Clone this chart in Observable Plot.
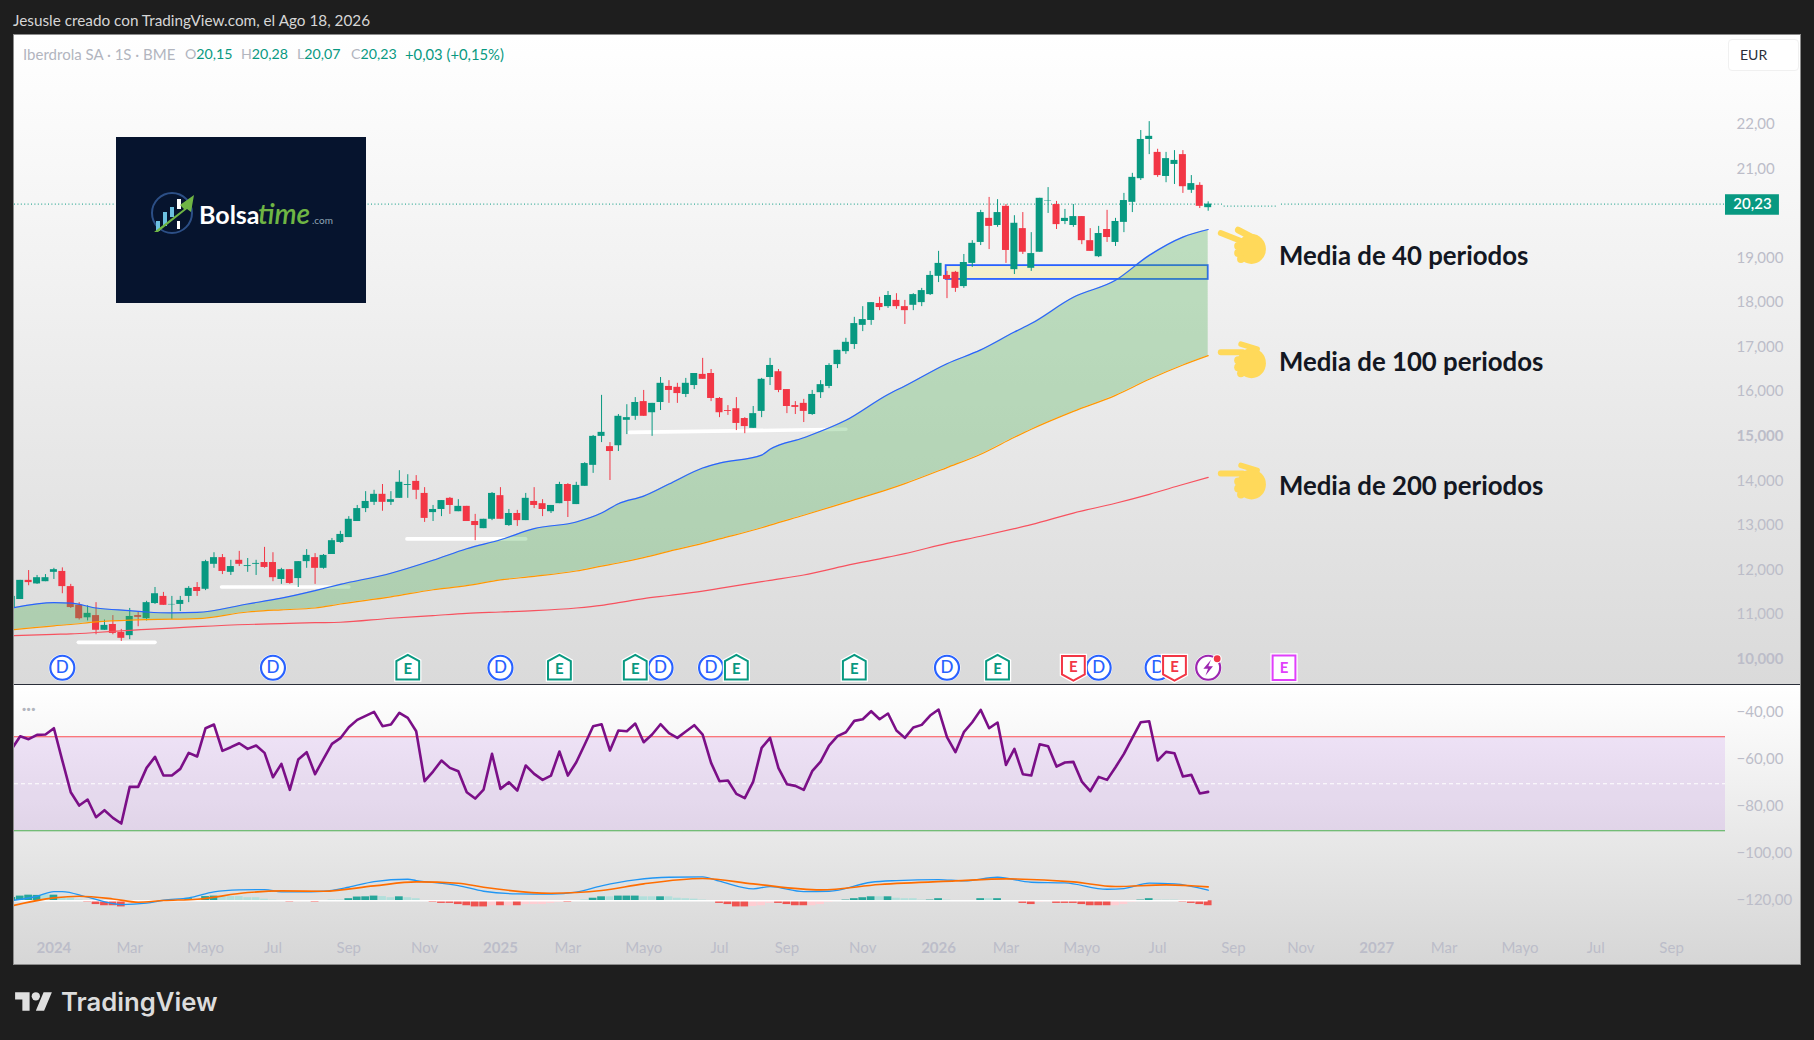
<!DOCTYPE html>
<html lang="es">
<head>
<meta charset="utf-8">
<title>Iberdrola SA</title>
<script src="https://cdn.jsdelivr.net/npm/d3@7"></script>
<script src="https://cdn.jsdelivr.net/npm/@observablehq/plot@0.6"></script>
<style>
  html,body{margin:0;padding:0;background:#1e1e1e;width:1814px;height:1040px;overflow:hidden;font-family:Lato,"Open Sans",sans-serif}
  .abs{position:absolute;white-space:nowrap}
  #frame{position:absolute;left:13px;top:34px;width:1786px;height:929px;border:1px solid #8c8c8c;box-sizing:content-box}
  #main,#sub{position:absolute;left:14px}
  #main{top:35px}
  #sub{top:685px}
  #sep{position:absolute;left:14px;top:684px;width:1786px;height:1px;background:#2a2e39}
  figure{margin:0}
</style>
</head>
<body>
<div id="frame"></div>
<div id="main"></div>
<div id="sep"></div>
<div id="sub"></div>
<script>
// ---- Weekly candles (first entry is week -5, week 0 is the first week of 2024)
const firstWeek = -5;
const opens = [11.17,11.36,11.79,11.71,11.76,11.97,11.99,11.65,11.23,10.95,11.00,10.67,10.80,10.62,10.55,11.00,10.93,11.27,11.43,11.24,11.25,11.43,11.63,11.59,12.15,12.30,11.97,12.24,12.10,12.15,12.19,12.19,11.81,12.03,11.83,12.21,12.30,12.06,12.37,12.64,12.75,13.11,13.40,13.54,13.72,13.54,13.63,13.92,14.01,13.74,13.31,13.38,13.63,13.33,13.45,13.11,12.95,13.16,13.69,13.02,13.29,13.13,13.56,13.51,13.33,13.51,13.94,13.49,13.90,14.37,15.02,14.79,14.81,15.38,15.47,15.80,15.55,15.78,16.14,16.12,15.96,16.16,16.41,16.43,15.87,15.60,15.64,15.42,15.20,15.58,16.34,16.47,16.07,15.71,15.76,15.51,16.00,16.14,16.63,16.92,17.08,17.51,17.62,18.00,17.93,18.07,17.93,17.96,18.02,18.20,18.61,18.63,18.70,18.38,18.90,19.37,19.91,19.75,20.18,18.76,19.68,18.79,19.15,20.30,20.22,19.84,19.75,19.95,19.41,19.05,19.66,19.37,19.82,20.27,20.80,21.68,21.39,20.85,21.12,21.34,20.54,20.65,20.15];
const highs = [11.43,11.79,12.01,11.90,11.92,12.06,12.07,11.70,11.29,11.22,11.29,10.90,11.00,10.69,11.16,11.08,11.32,11.63,11.52,11.43,11.43,11.65,11.74,12.24,12.41,12.37,12.24,12.44,12.28,12.24,12.53,12.41,12.06,12.03,12.21,12.48,12.39,12.37,12.73,12.89,13.22,13.47,13.78,13.81,13.94,13.78,14.25,14.16,14.14,13.87,13.47,13.58,13.65,13.60,13.45,13.27,13.16,13.76,13.87,13.38,13.36,13.74,13.87,13.60,13.47,13.99,13.96,13.99,14.43,15.04,15.94,14.88,15.51,15.73,15.89,16.05,15.76,16.34,16.27,16.21,16.32,16.43,16.77,16.52,15.89,15.71,15.89,15.44,15.69,16.32,16.77,16.52,16.07,15.80,15.85,16.05,16.27,16.65,16.95,17.22,17.69,17.93,18.02,18.14,18.27,18.22,18.07,18.22,18.34,18.72,19.17,18.72,18.72,19.10,19.41,20.09,20.38,20.33,20.22,19.97,20.04,19.59,20.36,20.60,20.29,20.11,20.22,19.95,19.68,19.73,20.09,19.91,20.47,20.92,21.88,22.08,21.46,21.39,21.43,21.43,20.87,20.71,20.28];
const lows = [11.17,11.36,11.67,11.70,11.76,11.81,11.49,11.16,10.90,10.88,10.57,10.67,10.57,10.42,10.46,10.75,10.88,11.25,11.23,10.91,11.09,11.29,11.43,11.56,12.06,11.92,11.90,12.10,11.97,11.90,12.06,11.76,11.70,11.70,11.63,12.06,11.70,12.04,12.37,12.62,12.75,13.11,13.31,13.47,13.34,13.47,13.63,13.63,13.60,13.09,13.11,13.22,13.27,13.33,13.11,12.68,12.95,13.13,13.16,13.00,13.00,13.13,13.40,13.22,13.29,13.51,13.20,13.49,13.90,14.19,14.88,14.03,14.68,15.06,15.38,15.47,15.02,15.60,15.76,15.76,15.89,16.07,16.30,15.80,15.44,15.49,15.15,15.08,15.20,15.44,16.16,16.00,15.53,15.51,15.33,15.49,15.87,16.09,16.54,16.86,16.97,17.37,17.51,17.84,17.89,17.87,17.53,17.84,17.93,18.18,18.47,18.11,18.25,18.34,18.81,19.30,19.21,19.71,18.90,18.65,19.10,18.72,19.15,20.02,19.66,19.77,19.71,19.32,19.17,19.03,19.37,19.28,19.59,20.04,20.76,21.34,20.83,20.71,20.67,20.47,20.47,20.13,20.07];
const closes = [11.43,11.79,11.74,11.85,11.85,12.03,11.65,11.18,10.93,11.05,10.67,10.78,10.60,10.49,10.98,10.96,11.29,11.49,11.23,11.25,11.34,11.61,11.54,12.21,12.30,11.99,12.10,12.15,12.12,12.17,12.08,11.85,12.03,11.72,12.21,12.35,12.06,12.35,12.68,12.82,13.16,13.40,13.56,13.72,13.54,13.60,13.99,13.94,13.81,13.18,13.38,13.58,13.47,13.45,13.11,13.02,13.16,13.74,13.16,13.29,13.13,13.63,13.47,13.38,13.47,13.94,13.56,13.92,14.41,15.02,15.11,14.68,15.47,15.44,15.78,15.47,15.76,16.21,16.05,15.98,16.21,16.43,16.30,15.87,15.55,15.58,15.31,15.24,15.53,16.30,16.61,16.05,15.69,15.67,15.58,15.96,16.18,16.61,16.95,17.13,17.55,17.64,18.02,17.91,18.18,17.93,17.84,18.20,18.29,18.63,18.90,18.54,18.34,18.92,19.35,20.04,19.73,20.04,19.19,19.80,19.15,19.12,20.36,20.31,19.77,19.91,19.95,19.41,19.17,19.57,19.48,19.84,20.31,20.83,21.68,21.75,20.87,21.25,21.21,20.62,20.69,20.18,20.23];

// ---- Moving averages, read at these weeks
const maWeeks = [-5,0,2,5,9,11,14,17,23,27,31,34,40,45,49,53,57,62,65,67,70,73,77,79,84,85,89,94,99,101,106,110,114,116,121,126,130,134,137];
const ma40  = [11.17,11.29,11.28,11.17,11.11,11.08,11.06,11.07,11.26,11.39,11.56,11.70,11.95,12.24,12.50,12.70,12.95,13.10,13.30,13.51,13.68,13.95,14.31,14.42,14.60,14.73,14.99,15.38,15.96,16.15,16.65,16.96,17.36,17.55,18.14,18.52,19.08,19.49,19.66];
const ma100 = [10.68,10.77,10.80,10.86,10.90,10.91,10.92,10.93,11.08,11.13,11.17,11.26,11.42,11.58,11.67,11.80,11.88,12.00,12.11,12.18,12.30,12.44,12.62,12.72,12.97,13.03,13.25,13.54,13.83,13.96,14.32,14.62,15.00,15.18,15.58,15.94,16.30,16.62,16.83];
const ma200 = [10.55,10.58,10.59,10.62,10.67,10.69,10.72,10.75,10.80,10.82,10.84,10.85,10.94,11.00,11.05,11.08,11.11,11.17,11.23,11.29,11.38,11.45,11.55,11.61,11.76,11.79,11.91,12.12,12.31,12.39,12.62,12.78,12.95,13.04,13.30,13.52,13.72,13.94,14.10];

// ---- RSI (plotted on the lower pane's shifted scale), one value a week from week -5
const rsi = [-55.16,-49.77,-51.05,-49.2,-49.06,-46.37,-60.13,-73.6,-79.28,-76.72,-84.24,-81.26,-84.52,-86.93,-71.33,-71.33,-63.25,-58.57,-66.51,-66.51,-63.67,-56.86,-58.42,-46.37,-44.81,-56.01,-54.45,-52.75,-55.16,-53.74,-56.86,-67.22,-61.55,-72.61,-59.7,-56.58,-65.94,-59.42,-53.03,-50.62,-45.94,-42.82,-41.12,-39.42,-45.52,-44.81,-39.84,-41.97,-47.64,-68.92,-64.81,-60.13,-63.25,-64.67,-73.6,-76.3,-72.47,-57.29,-72.18,-69.35,-72.89,-62.25,-65.8,-68.35,-66.51,-56.3,-66.51,-60.84,-53.32,-45.52,-44.67,-55.87,-47.36,-47.64,-44.38,-52.32,-49.06,-44.67,-48.5,-50.48,-47.79,-45.09,-49.06,-61.12,-68.92,-68.64,-74.31,-76.15,-69.06,-54.74,-50.48,-63.39,-70.2,-70.91,-72.61,-64.67,-60.55,-53.74,-49.77,-48.07,-43.25,-42.54,-39.13,-42.54,-40.13,-47.36,-50.48,-46.08,-44.95,-40.98,-38.43,-50.2,-56.58,-48.07,-43.82,-38.57,-46.37,-43.96,-61.97,-55.16,-65.94,-66.51,-53.18,-54.03,-62.68,-60.98,-60.69,-69.06,-73.18,-67.08,-68.35,-62.96,-57.29,-50.48,-43.82,-43.39,-60.13,-56.44,-57.01,-66.94,-66.23,-74.17,-73.46];
const rsiUpper = -50, rsiMiddle = -70, rsiLower = -90;

// ---- MACD (same pane), lines at their own weeks; histogram one value a week from week -5
const macdWeeks = [-5,-2,0,1,4,8,11,13,16,19,22,25,27,29,32,35,38,42,43,48,51,55,59,62,65,69,73,77,79,83,85,89,92,97,100,105,108,112,116,120,125,127,130,133,137];
const macd = [-119.7,-117.86,-115.87,-115.87,-118.28,-121.4,-120.83,-119.56,-118.57,-116.01,-115.16,-115.02,-116.01,-116.01,-115.73,-114.03,-111.62,-110.62,-111.19,-113.32,-115.73,-116.86,-117,-116.15,-113.46,-110.91,-109.77,-109.63,-111.47,-114.74,-113.74,-115.87,-115.73,-111.9,-111.19,-110.76,-111.33,-109.77,-111.9,-112.18,-114.88,-114.59,-112.32,-112.61,-115.3];
const signalWeeks = [-5,0,3,7,10,13,17,23,27,32,38,43,48,51,59,62,65,70,77,83,91,98,107,113,121,126,132,137];
const signal = [-121.97,-118.57,-117.86,-119,-120.41,-119.7,-119.13,-116.3,-115.59,-115.73,-113.46,-111.76,-112.32,-114.03,-116.58,-116.3,-115.44,-112.61,-110.34,-112.61,-115.16,-112.89,-111.33,-110.48,-111.76,-113.74,-113.03,-113.88];
const macdZero = -119.8;
const hist = [1.4,2,2.4,2.3,2.6,2.4,1.3,1.1,.3,-.6,-1.6,-2.1,-2.1,-2.6,-1.1,-.6,-.3,0,0,.3,.5,.9,.7,1.8,2,1.7,1.8,1.8,1.3,1.3,.7,.3,0,-.6,-.4,-.3,-.7,-.3,.4,.4,.9,1.6,1.7,2,1.8,1.3,1.7,1.3,.9,0,-.7,-1.1,-1.1,-1.6,-2.1,-2.6,-2.6,-2.1,-2.1,-2.1,-2.1,-1.6,-1.6,-1.6,-1.1,-.6,-.7,0,.4,1.1,1.7,1.7,2,2,2,1.7,1.7,1.7,1.7,1.1,.9,.7,.3,0,-1.1,-1.6,-2.6,-2.6,-2.4,-2.1,-1.1,-1.1,-1.6,-2.1,-2.1,-2.1,-1.6,-.6,0,.3,.9,1.3,1.7,1.7,1.7,1.1,.9,.9,.3,.3,.9,.3,0,0,0,.9,.9,.9,0,0,-1.1,-1.6,-.6,-.4,-1.1,-1.1,-1.1,-1.6,-2.1,-2.1,-2.1,-2.1,-1.6,-.6,.3,.9,.3,.3,.3,-.6,-1.1,-1.6,-2.1];
const histFaded = [0,0,0,0,1,0,1,1,1,0,0,0,0,0,1,1,1,0,0,1,1,0,1,0,0,1,1,1,1,1,1,1,0,0,1,1,0,1,1,1,0,0,0,0,1,1,0,1,1,0,0,0,0,0,0,0,0,1,0,1,0,1,1,1,1,1,0,0,1,0,0,1,0,0,0,1,1,0,1,1,1,1,1,0,0,0,0,0,1,1,1,0,0,0,0,1,1,1,0,0,0,0,0,1,0,1,1,1,1,0,0,1,0,0,0,0,1,0,0,0,0,0,1,1,0,0,0,0,0,0,0,1,1,1,0,0,1,1,1,0,0,0,0];

// ---- Reference marks
const supportBars = [
  {from:2.9,  to:12.0, at:10.40, atEnd:10.40},
  {from:19.9, to:35.0, at:11.64, atEnd:11.64},
  {from:41.9, to:56.0, at:12.72, atEnd:12.72},
  {from:68.3, to:94.0, at:15.11, atEnd:15.18}
];
const zone = {from:105.9, to:137, low:18.54, high:18.85};
const lastPrice = 20.23;

// ---- Event markers
const dividendWeeks = [1,26,53,72,78,106,124,131];
const earningsUpWeeks = [42,60,69,81,95,112];
const earningsDownWeeks = [121,133];
const newsWeeks = [137];
const earningsNextWeeks = [146];
const eventLevel = 9.83;

// ---- Tick labels
const monthTicks = [9,18,26,35,44,61,70,79,87,96,113,122,131,140,148,165,174,183,192];
const monthNames = ["Mar","Mayo","Jul","Sep","Nov","Mar","Mayo","Jul","Sep","Nov","Mar","Mayo","Jul","Sep","Nov","Mar","Mayo","Jul","Sep"];
const yearTicks = [0,53,105,157];
const yearNames = ["2024","2025","2026","2027"];
const priceTicks = [22,21,19,18,17,16,14,13,12,11];
const priceNames = ["22,00","21,00","19,000","18,000","17,000","16,000","14,000","13,000","12,000","11,000"];
const priceBoldTicks = [15,10];
const priceBoldNames = ["15,000","10,000"];
const lowerTicks = [-40,-60,-80,-100,-120];
const lowerNames = ["\u221240,00","\u221260,00","\u221280,00","\u2212100,00","\u2212120,00"];
const noteTexts = ["Media de 40 periodos","Media de 100 periodos","Media de 200 periodos"];
const noteLevels = [19.06,16.68,13.90];
const handLevels = [19.29,16.73,14.01];

// ---- Colours and shared settings
const UP = "#089981", DOWN = "#F23645", BLUE = "#2962FF", AXIS = "#bcbdc9";
const FONT = 'Lato, "Open Sans", sans-serif';
const W = 1786, R = 75;
const xScale = {domain:[-4.677,198.4]};
const weekOf = k => k + firstWeek;
const lookup = (keys, names) => v => names[keys.indexOf(v)];

const candles = opens.map((o,k)=>({w:weekOf(k),o,h:highs[k],l:lows[k],c:closes[k],color:closes[k]>=o?UP:DOWN}));
const mas = maWeeks.map((w,k)=>({w,a:ma40[k],b:ma100[k],c:ma200[k]}));
const bars = supportBars.map(s=>[{w:s.from,y:s.at},{w:s.to,y:s.atEnd}]);

// Marker outlines, radius taken from the mark's own r
const s = size => Math.sqrt(size/Math.PI);
const houseUp = {draw(c,size){const r=s(size);c.moveTo(0,-r*1.08);c.lineTo(r*.95,-r*.55);c.lineTo(r*.95,r*.98);c.lineTo(-r*.95,r*.98);c.lineTo(-r*.95,-r*.55);c.closePath();}};
const houseDown = {draw(c,size){const r=s(size);c.moveTo(-r*.95,-r*.98);c.lineTo(r*.95,-r*.98);c.lineTo(r*.95,r*.55);c.lineTo(0,r*1.08);c.lineTo(-r*.95,r*.55);c.closePath();}};
const square = {draw(c,size){const r=s(size);c.rect(-r*.95,-r*1.02,r*1.9,r*2.04);}};
const bolt = {draw(c,size){const r=s(size);c.moveTo(r*.35,-r);c.lineTo(-r*.6,r*.12);c.lineTo(-r*.02,r*.12);c.lineTo(-r*.35,r);c.lineTo(r*.6,-r*.18);c.lineTo(r*.02,-r*.18);c.closePath();}};

function hand(tilt){
  const finger = tilt ? '<line x1="4" y1="7" x2="25" y2="15" stroke-width="6"/><line x1="22" y1="4" x2="40" y2="13" stroke-width="6.5"/>'
                      : '<line x1="4" y1="12" x2="27" y2="12" stroke-width="6"/><line x1="25" y1="4" x2="42" y2="9" stroke-width="5.5"/>';
  const svg = '<svg xmlns="http://www.w3.org/2000/svg" viewBox="0 0 52 40"><g fill="#FFD95A" stroke="#FFD95A" stroke-linecap="round">'+finger+
    '<circle cx="36" cy="23" r="15" stroke="none"/><circle cx="22" cy="20" r="4" stroke="none"/><circle cx="22" cy="27" r="4" stroke="none"/><circle cx="25" cy="33" r="4" stroke="none"/></g></svg>';
  return "data:image/svg+xml;utf8,"+encodeURIComponent(svg);
}

// ---- Main pane
const mainPlot = Plot.plot({
  width:W, height:649, marginLeft:0, marginRight:R, marginTop:0, marginBottom:0,
  x:{...xScale, axis:null},
  y:{domain:[9.454,24.012], range:[649,0], axis:null},
  style:{background:"linear-gradient(#ffffff 0%,#f6f6f6 25%,#e8e8e8 62%,#dadada 100%)", fontFamily:FONT, overflow:"hidden"},
  marks:[
    Plot.axisY(priceTicks,{anchor:"right",tickSize:0,tickPadding:11,dy:-1,label:null,fontSize:15,fill:AXIS,tickFormat:lookup(priceTicks,priceNames)}),
    Plot.axisY(priceBoldTicks,{anchor:"right",tickSize:0,tickPadding:11,dy:-1,label:null,fontSize:15,fontWeight:"bold",fill:AXIS,tickFormat:lookup(priceBoldTicks,priceBoldNames)}),
    Plot.ruleY([lastPrice],{x1:-4.677,x2:138.8,stroke:UP,strokeDasharray:"1 2.4"}),
    Plot.ruleY([lastPrice-0.045],{x1:138.9,x2:145.1,stroke:UP,strokeDasharray:"1 2.4"}),
    Plot.ruleY([lastPrice],{x1:145.7,x2:198.4,stroke:UP,strokeDasharray:"1 2.4"}),
    ...bars.map(b=>Plot.line(b,{x:"w",y:"y",stroke:"#ffffff",strokeWidth:3.6,strokeLinecap:"round"})),
    Plot.rect([zone],{x1:"from",x2:"to",y1:"low",y2:"high",fill:"#FFEB3B",fillOpacity:.2,stroke:BLUE,strokeWidth:1.8}),
    Plot.ruleX(candles,{x:"w",y1:"l",y2:"h",stroke:"color",strokeWidth:1}),
    Plot.rect(candles,{x1:d=>d.w-.415,x2:d=>d.w+.415,y1:"o",y2:"c",fill:"color"}),
    Plot.areaY(mas,{x:"w",y1:"b",y2:"a",fill:"#4CAF50",fillOpacity:.32,curve:"monotone-x"}),
    Plot.line(mas,{x:"w",y:"c",stroke:"#F7525F",strokeWidth:1.2,curve:"monotone-x"}),
    Plot.line(mas,{x:"w",y:"b",stroke:"#FF9800",strokeWidth:1.2,curve:"monotone-x"}),
    Plot.line(mas,{x:"w",y:"a",stroke:BLUE,strokeWidth:1.2,curve:"monotone-x"}),
    // price badge
    Plot.rect([lastPrice],{x1:198.4,x2:204.8,y1:19.98,y2:20.44,fill:UP}),
    Plot.text(["20,23"],{x:201.6,y:lastPrice,fill:"#ffffff",fontSize:15,fontWeight:600}),
    // events
    Plot.dot(dividendWeeks,{x:d=>d,y:()=>eventLevel,r:13.6,fill:"#ffffff"}),
    Plot.dot(dividendWeeks,{x:d=>d,y:()=>eventLevel,r:12,fill:"#ffffff",stroke:BLUE,strokeWidth:2.2}),
    Plot.text(dividendWeeks,{x:d=>d,y:()=>eventLevel,text:()=>"D",fill:BLUE,fontSize:17,fontWeight:500}),
    Plot.dot(earningsUpWeeks,{x:d=>d,y:()=>eventLevel,r:12,symbol:houseUp,fill:"#ffffff",stroke:"#ffffff",strokeWidth:4.5}),
    Plot.dot(earningsUpWeeks,{x:d=>d,y:()=>eventLevel,r:12,symbol:houseUp,fill:"#ffffff",stroke:UP,strokeWidth:2}),
    Plot.text(earningsUpWeeks,{x:d=>d,y:()=>eventLevel,text:()=>"E",fill:UP,fontSize:15,fontWeight:700,dy:1}),
    Plot.dot(earningsDownWeeks,{x:d=>d,y:()=>eventLevel,r:12,symbol:houseDown,fill:"#ffffff",stroke:"#ffffff",strokeWidth:4.5}),
    Plot.dot(earningsDownWeeks,{x:d=>d,y:()=>eventLevel,r:12,symbol:houseDown,fill:"#ffffff",stroke:DOWN,strokeWidth:2}),
    Plot.text(earningsDownWeeks,{x:d=>d,y:()=>eventLevel,text:()=>"E",fill:DOWN,fontSize:15,fontWeight:700,dy:-1}),
    Plot.dot(newsWeeks,{x:d=>d,y:()=>eventLevel,r:13.6,fill:"#ffffff"}),
    Plot.dot(newsWeeks,{x:d=>d,y:()=>eventLevel,r:12,fill:"#ffffff",stroke:"#9C27B0",strokeWidth:2.2}),
    Plot.dot(newsWeeks,{x:d=>d,y:()=>eventLevel,r:8,symbol:bolt,fill:"#9C27B0"}),
    Plot.dot(newsWeeks,{x:d=>d,y:()=>eventLevel,r:4.6,dx:9,dy:-9,fill:"#ffffff"}),
    Plot.dot(newsWeeks,{x:d=>d,y:()=>eventLevel,r:3.4,dx:9,dy:-9,fill:"#F23645"}),
    Plot.dot(earningsNextWeeks,{x:d=>d,y:()=>eventLevel,r:12,symbol:square,fill:"#ffffff",stroke:"#ffffff",strokeWidth:4.5}),
    Plot.dot(earningsNextWeeks,{x:d=>d,y:()=>eventLevel,r:12,symbol:square,fill:"#ffffff",stroke:"#E040FB",strokeWidth:2}),
    Plot.text(earningsNextWeeks,{x:d=>d,y:()=>eventLevel,text:()=>"E",fill:"#E040FB",fontSize:15,fontWeight:700}),
    // notes
    Plot.image(handLevels,{x:()=>141,y:d=>d,width:50,height:40,preserveAspectRatio:"none",src:(d,i)=>hand(i===0)}),
    Plot.text(noteTexts,{x:()=>145.4,y:(d,i)=>noteLevels[i],text:d=>d,textAnchor:"start",fontSize:25.8,fontWeight:700,fill:"#131722"})
  ]
});
document.getElementById("main").append(mainPlot);

// ---- Lower pane
const histRows = hist.map((h,k)=>({w:weekOf(k),h,f:histFaded[k]})).filter(d=>d.h!==0);
const histColor = d => d.h>0 ? (d.f?"#B2DFDB":"#26A69A") : (d.f?"#FFCDD2":"#EF5350");
const rsiRows = rsi.map((v,k)=>({w:weekOf(k),v}));
const macdRows = macd.map((v,k)=>({w:macdWeeks[k],v}));
const signalRows = signal.map((v,k)=>({w:signalWeeks[k],v}));

const subPlot = Plot.plot({
  width:W, height:279, marginLeft:0, marginRight:R, marginTop:0, marginBottom:25,
  x:{...xScale, axis:null},
  y:{domain:[-146.9,-28.2], range:[279,0], axis:null},
  style:{background:"linear-gradient(#ffffff 0%,#f6f6f6 22%,#e8e8e8 55%,#d6d6d6 100%)", fontFamily:FONT, overflow:"hidden"},
  marks:[
    Plot.axisY(lowerTicks,{anchor:"right",tickSize:0,tickPadding:11,dy:-1,label:null,fontSize:15,fill:AXIS,tickFormat:lookup(lowerTicks,lowerNames)}),
    Plot.axisX(monthTicks,{anchor:"bottom",tickSize:0,tickPadding:3,label:null,fontSize:15,fill:AXIS,tickFormat:lookup(monthTicks,monthNames)}),
    Plot.axisX(yearTicks,{anchor:"bottom",tickSize:0,tickPadding:3,label:null,fontSize:15,fontWeight:"bold",fill:AXIS,tickFormat:lookup(yearTicks,yearNames)}),
    Plot.rect([0],{x1:-4.677,x2:198.4,y1:rsiLower,y2:rsiUpper,fill:"rgb(155,50,227)",fillOpacity:.115}),
    Plot.ruleY([rsiUpper],{x1:-4.677,x2:198.4,stroke:"#FF5252",strokeWidth:1.2}),
    Plot.ruleY([rsiLower],{x1:-4.677,x2:198.4,stroke:"#4CAF50",strokeWidth:1.2}),
    Plot.ruleY([rsiMiddle],{x1:-4.677,x2:198.4,stroke:"#ffffff",strokeWidth:1.2,strokeDasharray:"4 3"}),
    Plot.line(rsiRows,{x:"w",y:"v",stroke:"#7B0F87",strokeWidth:2.6,strokeLinejoin:"round"}),
    Plot.rect(histRows,{x1:d=>d.w-.46,x2:d=>d.w+.46,y1:()=>macdZero,y2:d=>macdZero+d.h,fill:histColor}),
    Plot.ruleY([macdZero],{x1:-4.677,x2:137,stroke:"#ffffff",strokeWidth:1.5}),
    Plot.line(macdRows,{x:"w",y:"v",stroke:"#2196F3",strokeWidth:1.3,curve:"monotone-x"}),
    Plot.line(signalRows,{x:"w",y:"v",stroke:"#FF6D00",strokeWidth:1.6,curve:"monotone-x"}),
    Plot.text(["\u00B7\u00B7\u00B7"],{x:-3.0,y:-38.4,fill:"#b2b5be",fontSize:17,fontWeight:700})
  ]
});
document.getElementById("sub").append(subPlot);
</script>

<!-- header, legend, EUR box -->
<div class="abs" style="left:13px;top:11px;color:#d6d6d6;font-size:15.3px;line-height:18px">Jesusle creado con TradingView.com, el Ago 18, 2026</div>
<div class="abs" style="left:23px;top:45px;color:#b2b5be;font-size:15px;line-height:18px">Iberdrola SA · 1S · BME</div>
<div class="abs" style="left:185px;top:45px;color:#b2b5be;font-size:14.2px;line-height:18px">O<span style="color:#089981">20,15</span></div>
<div class="abs" style="left:241px;top:45px;color:#b2b5be;font-size:14.2px;line-height:18px">H<span style="color:#089981">20,28</span></div>
<div class="abs" style="left:297px;top:45px;color:#b2b5be;font-size:14.2px;line-height:18px">L<span style="color:#089981">20,07</span></div>
<div class="abs" style="left:351px;top:45px;color:#b2b5be;font-size:14.2px;line-height:18px">C<span style="color:#089981">20,23</span></div>
<div class="abs" style="left:405px;top:45px;color:#089981;font-size:14.8px;line-height:18px">+0,03 (+0,15%)</div>
<div class="abs" style="left:1728px;top:39px;width:71px;height:32px;background:#fff;border:1px solid #f0f0f0;border-radius:4px;box-sizing:border-box;color:#2a2e39;font-size:14px;line-height:30px;padding-left:11px">EUR</div>

<!-- Bolsatime logo -->
<svg class="abs" style="left:116px;top:137px" width="250" height="166" viewBox="0 0 250 166">
  <rect width="250" height="166" fill="#06142E"/>
  <circle cx="56" cy="76" r="20" fill="none" stroke="#2c4f86" stroke-width="2"/>
  <g fill="#6cc0e0"><rect x="40" y="84" width="4" height="10"/><rect x="47" y="75" width="4" height="14"/><rect x="54" y="70" width="4" height="10"/></g>
  <g fill="#fff"><rect x="61" y="62" width="4" height="10"/><rect x="61" y="84" width="3" height="8"/></g>
  <path d="M38 95 L68 72 L64 68 L78 58 L75 75 L71 72 L42 95 Z" fill="#6fb544"/>
  <text x="83" y="87" font-family="Lato, sans-serif" font-weight="700" font-size="25" fill="#ffffff">Bolsa</text>
  <text x="142" y="87" font-family="Lato, sans-serif" font-weight="600" font-style="italic" font-size="28" fill="#6fb544">time</text>
  <text x="196" y="87" font-family="Lato, sans-serif" font-size="10" fill="#8fa5b5">.com</text>
</svg>

<!-- TradingView wordmark -->
<svg class="abs" style="left:15px;top:988px" width="37.5" height="29" viewBox="0 0 36 28"><path fill="#e0e0e0" d="M14 22H7V11H0V4h14v18zM28 22h-8l7.5-18h8L28 22z"/><circle cx="20" cy="8" r="4" fill="#e0e0e0"/></svg>
<div class="abs" style="left:61px;top:986px;color:#dcdcdc;font-family:Inter,sans-serif;font-weight:600;font-size:25.7px;line-height:32px">TradingView</div>
</body>
</html>
